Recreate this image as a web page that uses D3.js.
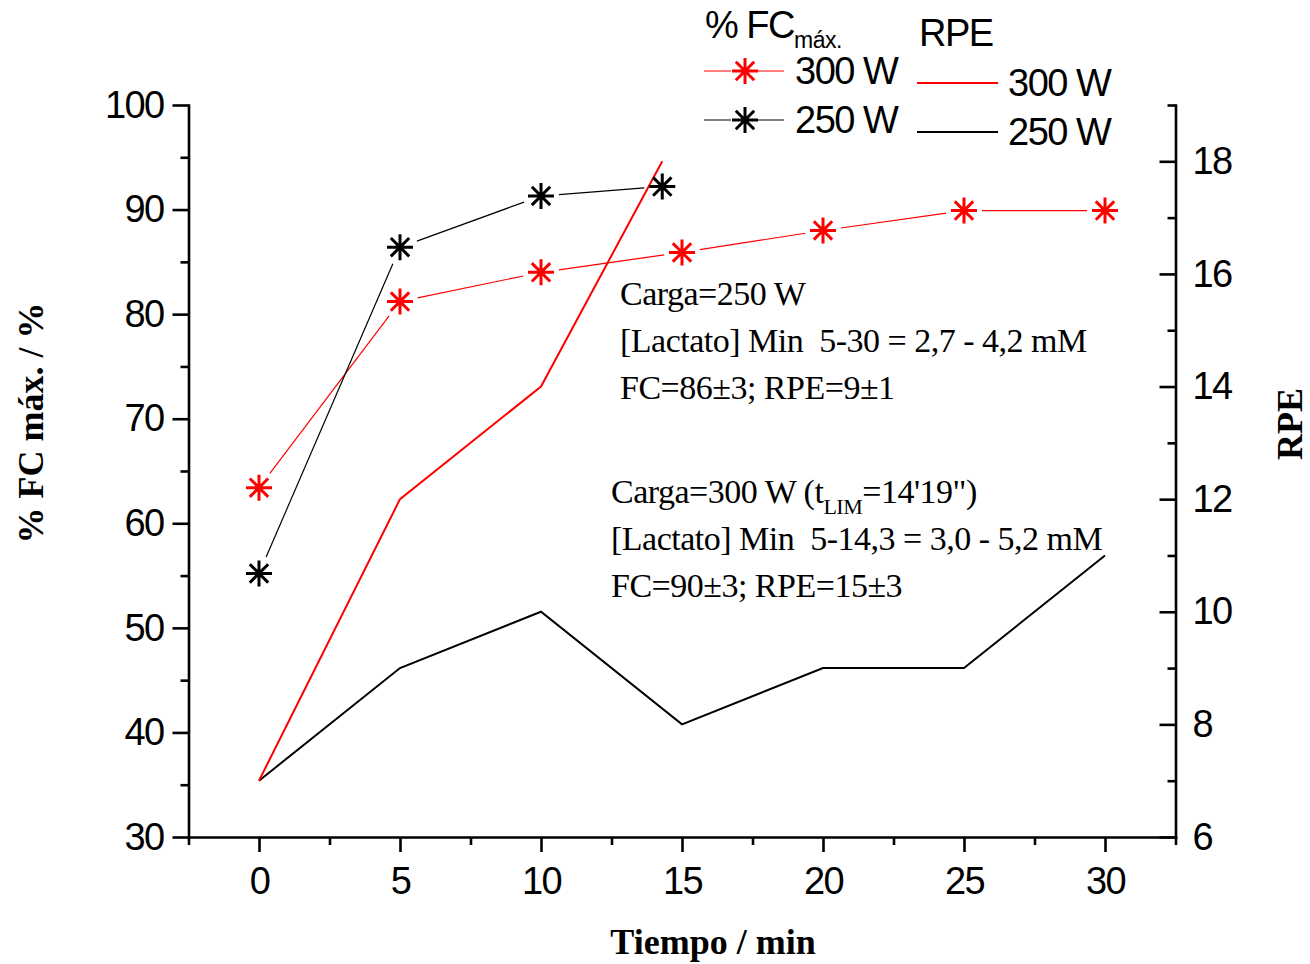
<!DOCTYPE html>
<html>
<head>
<meta charset="utf-8">
<script src="https://cdn.jsdelivr.net/npm/d3@7"></script>
<style>
  html, body { margin: 0; padding: 0; background: #fff; }
  svg { display: block; }
  .tick text { font-family: "Liberation Sans", Arial, sans-serif; font-size: 38px; letter-spacing: -1.6px; fill: #000; }
  .axis path, .axis line { stroke: #000; stroke-width: 2.6px; }
  .ttl { font-family: "Liberation Serif", "Times New Roman", serif; font-weight: bold; font-size: 36px; }
  .note { font-family: "Liberation Serif", "Times New Roman", serif; font-size: 34px; letter-spacing: -0.5px; white-space: pre; }
  .leg { font-family: "Liberation Sans", Arial, sans-serif; font-size: 38px; letter-spacing: -1.5px; }
</style>
</head>
<body>
<script>
// Heart rate (% of max) over time, for two workloads
const fcTime300 = [0, 5, 10, 15, 20, 25, 30];
const fc300     = [63.4, 81.2, 84.0, 85.9, 88.0, 89.9, 89.9];
const fcTime250 = [0, 5, 10, 14.3];
const fc250     = [55.2, 86.4, 91.3, 92.2];

// Rating of perceived exertion over time
const rpeTime300 = [0, 5, 10, 14.3];
const rpe300     = [7, 12, 14, 18];
const rpeTime250 = [0, 5, 10, 15, 20, 25, 30];
const rpe250     = [7, 9, 10, 8, 9, 9, 11];

// Tick values
const xTicks = [0, 5, 10, 15, 20, 25, 30];
const xMinor = [-2.5, 2.5, 7.5, 12.5, 17.5, 22.5, 27.5, 32.5];
const yLeftTicks = [30, 40, 50, 60, 70, 80, 90, 100];
const yLeftMinor = [35, 45, 55, 65, 75, 85, 95];
const yRightTicks = [6, 8, 10, 12, 14, 16, 18];
const yRightMinor = [7, 9, 11, 13, 15, 17, 19];

const W = 1310, H = 964;
const svg = d3.select("body").append("svg").attr("width", W).attr("height", H);

const x = d3.scaleLinear().domain([-2.5, 32.5]).range([188.5, 1175.5]);
const yL = d3.scaleLinear().domain([30, 100]).range([837, 105]);
const yR = d3.scaleLinear().domain([6, 19]).range([837, 105]);

// ---- axes ----
const gx = svg.append("g").attr("class", "axis").attr("transform", "translate(0,837)");
gx.call(d3.axisBottom(x).tickValues(xTicks).tickSize(15).tickPadding(15).tickSizeOuter(0).tickFormat(d3.format("d")));
gx.append("g").call(d3.axisBottom(x).tickValues(xMinor).tickSize(8).tickFormat("")).select(".domain").remove();

const gl = svg.append("g").attr("class", "axis").attr("transform", "translate(188.5,0)");
gl.call(d3.axisLeft(yL).tickValues(yLeftTicks).tickSize(16).tickPadding(9).tickSizeOuter(0));
gl.append("g").call(d3.axisLeft(yL).tickValues(yLeftMinor).tickSize(8).tickFormat("")).select(".domain").remove();

const gr = svg.append("g").attr("class", "axis").attr("transform", "translate(1175.5,0)");
gr.call(d3.axisRight(yR).tickValues(yRightTicks).tickSize(-16).tickPadding(17).tickSizeOuter(0));
gr.append("g").call(d3.axisRight(yR).tickValues(yRightMinor).tickSize(-8).tickFormat("")).select(".domain").remove();

svg.selectAll(".axis .domain").attr("stroke-linecap", "square");

// ---- axis titles ----
svg.append("text").attr("class", "ttl").attr("x", 713).attr("y", 954)
  .attr("text-anchor", "middle").text("Tiempo / min");
svg.append("text").attr("class", "ttl")
  .attr("transform", "translate(43,423) rotate(-90)")
  .attr("text-anchor", "middle").text("% FC máx. / %");
svg.append("text").attr("class", "ttl")
  .attr("transform", "translate(1302,424) rotate(-90)")
  .attr("text-anchor", "middle").text("RPE");

// ---- helpers ----
const R = 13;
function asterisk(cx, cy, r) {
  const d = r * Math.SQRT1_2;
  return `M${cx - r},${cy}L${cx + r},${cy}M${cx},${cy - r}L${cx},${cy + r}` +
         `M${cx - d},${cy - d}L${cx + d},${cy + d}M${cx - d},${cy + d}L${cx + d},${cy - d}`;
}
// connecting segments that stop short of each marker
function gappedSegments(pts, gap) {
  const segs = [];
  for (let i = 0; i < pts.length - 1; i++) {
    const [x0, y0] = pts[i], [x1, y1] = pts[i + 1];
    const len = Math.hypot(x1 - x0, y1 - y0);
    if (len <= 2 * gap) continue;
    const ux = (x1 - x0) / len, uy = (y1 - y0) / len;
    segs.push([[x0 + ux * gap, y0 + uy * gap], [x1 - ux * gap, y1 - uy * gap]]);
  }
  return segs;
}
const line = d3.line();

function drawFC(times, vals, color) {
  const pts = times.map((t, i) => [x(t), yL(vals[i])]);
  const g = svg.append("g");
  g.selectAll("path.seg").data(gappedSegments(pts, 18)).join("path")
    .attr("class", "seg").attr("d", line)
    .attr("fill", "none").attr("stroke", color).attr("stroke-width", 1.2);
  g.selectAll("path.mk").data(pts).join("path")
    .attr("class", "mk").attr("d", p => asterisk(p[0], p[1], R))
    .attr("fill", "none").attr("stroke", color).attr("stroke-width", 3);
}
function drawRPE(times, vals, color) {
  svg.append("path").datum(times.map((t, i) => [x(t), yR(vals[i])]))
    .attr("d", line).attr("fill", "none")
    .attr("stroke", color).attr("stroke-width", 2).attr("stroke-linejoin", "miter");
}

drawRPE(rpeTime250, rpe250, "#000");
drawRPE(rpeTime300, rpe300, "#ff0000");
drawFC(fcTime300, fc300, "#ff0000");
drawFC(fcTime250, fc250, "#000");

// ---- annotations ----
const note1 = ["Carga=250 W", "[Lactato] Min  5-30 = 2,7 - 4,2 mM", "FC=86±3; RPE=9±1"];
note1.forEach((s, i) => {
  svg.append("text").attr("class", "note").attr("x", 620).attr("y", 305 + i * 47).text(s);
});
const n2 = svg.append("text").attr("class", "note").attr("x", 611).attr("y", 503);
n2.append("tspan").text("Carga=300 W (t");
n2.append("tspan").attr("dy", 11).attr("font-size", "22px").text("LIM");
n2.append("tspan").attr("dy", -11).text("=14'19\")");
["[Lactato] Min  5-14,3 = 3,0 - 5,2 mM", "FC=90±3; RPE=15±3"].forEach((s, i) => {
  svg.append("text").attr("class", "note").attr("x", 611).attr("y", 550 + i * 47).text(s);
});

// ---- legend ----
const lg = svg.append("g");
const h1 = lg.append("text").attr("class", "leg").attr("x", 705).attr("y", 38);
h1.append("tspan").text("% FC");
h1.append("tspan").attr("dy", 10).attr("font-size", "23px").attr("letter-spacing", "-0.5px").text("máx.");
lg.append("text").attr("class", "leg").attr("x", 919).attr("y", 46).text("RPE");

const fcLeg = [{c: "#ff0000", y: 71, t: "300 W"}, {c: "#000", y: 120, t: "250 W"}];
fcLeg.forEach(d => {
  lg.append("path").attr("d", `M704,${d.y}L731,${d.y}M758,${d.y}L784,${d.y}`)
    .attr("stroke", d.c).attr("stroke-width", 1.2);
  lg.append("path").attr("d", asterisk(745, d.y, R)).attr("fill", "none")
    .attr("stroke", d.c).attr("stroke-width", 3);
  lg.append("text").attr("class", "leg").attr("x", 795).attr("y", d.y + 13).text(d.t);
});
const rpeLeg = [{c: "#ff0000", y: 83, t: "300 W"}, {c: "#000", y: 132, t: "250 W"}];
rpeLeg.forEach(d => {
  lg.append("line").attr("x1", 917).attr("x2", 998).attr("y1", d.y).attr("y2", d.y)
    .attr("stroke", d.c).attr("stroke-width", 2);
  lg.append("text").attr("class", "leg").attr("x", 1008).attr("y", d.y + 13).text(d.t);
});
</script>
</body>
</html>
